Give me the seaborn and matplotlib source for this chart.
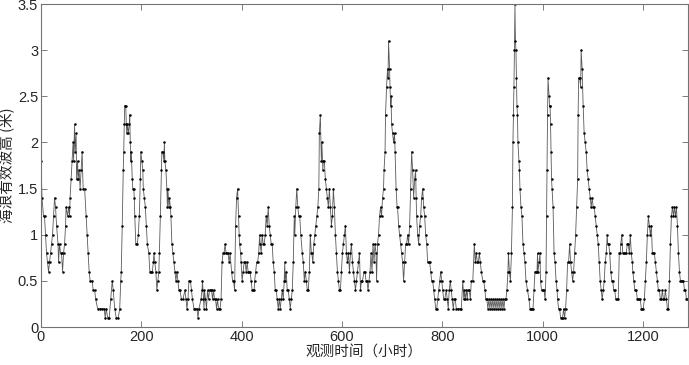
import numpy as np
import pandas as pd
import matplotlib
matplotlib.use("Agg")
import matplotlib.pyplot as plt
import seaborn as sns

sns.set_style("ticks")
plt.rcParams['font.family'] = ['Liberation Sans', 'Noto Sans CJK SC', 'DejaVu Sans']
plt.rcParams['axes.unicode_minus'] = False

# 观测时间 (小时) 与 海浪有效波高 (米)
obs_hours = [
    0, 2, 5, 7, 9, 11, 13, 15, 17, 19, 21, 23, 25, 27, 29, 31, 34, 35, 37, 39,
    41, 43, 45, 47, 49, 50, 53, 55, 57, 58, 60, 62, 64, 65, 67, 68, 70, 71, 73, 74,
    76, 78, 80, 82, 84, 87, 90, 92, 94, 96, 98, 102, 104, 107, 109, 113, 117, 121, 126, 128,
    130, 133, 136, 139, 142, 144, 147, 150,
    154, 157, 159, 160, 162, 164, 165, 166, 167, 169, 170, 171, 172, 174, 176, 177, 178, 179,
    180, 182, 183, 185, 186, 187, 189, 192, 194, 196, 198, 199, 201, 203, 204, 206, 208, 210,
    212, 215, 217, 219, 222, 224, 225, 227, 229, 231, 233, 235, 236, 238, 240, 241, 243, 245,
    246, 247, 249, 251, 252, 253, 255, 256, 258, 259, 261, 263, 265, 267, 269, 271, 273, 275,
    277, 280, 283, 287, 289, 291, 293, 295, 298, 300, 302, 305, 308, 311, 313, 315,
    319, 321, 322, 324, 325, 326, 328, 330, 332, 334, 336, 338, 340, 342, 344, 346, 348, 350,
    352, 354, 357, 359, 361, 363, 365, 367, 369, 370, 373, 375, 377, 380, 382, 384, 386, 388,
    390, 392, 394, 395, 396, 398, 399, 401, 403, 405, 407, 409, 411, 413, 415, 417, 419, 421,
    423, 425, 426, 428, 430, 432, 434, 436, 437, 439, 441, 443, 445, 447, 449, 451, 453, 455,
    457, 459, 461, 463, 465, 467, 469, 471, 473, 475, 477, 479,
    481, 483, 485, 486, 487, 489, 491, 493, 495, 497, 499, 501, 503, 505, 506, 508, 510, 512,
    514, 516, 518, 521, 523, 525, 527, 529, 531, 533, 535, 537, 539, 540, 542, 544, 546, 548,
    550, 552, 554, 555, 557, 559, 560, 562, 563, 565, 567, 569, 571, 573, 575, 577, 579, 581,
    583, 585, 587, 589, 591, 593, 595, 597, 599, 601, 603, 605, 607, 609, 611, 613, 615, 617,
    619, 621, 623, 625, 627, 629, 631, 633, 635, 637, 639, 641,
    644, 646, 648, 650, 652, 654, 656, 658, 660, 662, 664, 666, 668, 669, 671, 673, 675, 677,
    679, 681, 683, 684, 686, 687, 689, 691, 692, 693, 695, 696, 697, 698, 699, 701, 703, 705,
    706, 708, 710, 711, 713, 715, 717, 719, 721, 723, 725, 727, 729, 731, 733, 735, 737, 739,
    741, 743, 745, 747, 748, 749, 751, 753, 755, 757, 759, 761, 763, 765, 767, 769, 771, 773,
    775, 777, 779, 781, 783, 785, 787, 789, 791, 793, 795, 797, 799, 801, 803, 805,
    808, 810, 812, 814, 816, 818, 820, 822, 824, 826, 828, 831, 835, 838, 841, 843, 844, 846,
    848, 850, 851, 854, 856, 858, 861, 864, 866, 868, 870, 872, 874, 876, 878, 881, 883, 885,
    887, 889, 891, 893, 895, 897, 899, 901, 903, 905, 907, 909, 911, 913, 915, 917, 919, 921,
    923, 925, 927, 929, 931, 932, 934, 936, 938, 940, 941, 942, 943, 944, 945, 946, 947, 948,
    949, 950, 951, 953, 954, 955, 957, 959, 961, 963, 965, 967, 970,
    973, 975, 977, 979, 981, 983, 985, 987, 989, 990, 991, 993, 995, 996, 998, 1001, 1003, 1005,
    1007, 1008, 1009, 1010, 1011, 1013, 1014, 1015, 1016, 1017, 1018, 1019, 1021, 1023, 1025, 1027,
    1029, 1030, 1032, 1034, 1036, 1038, 1040, 1042, 1044, 1046, 1048, 1050, 1052, 1054, 1056, 1058,
    1060, 1062, 1064, 1066, 1068, 1070, 1071, 1072, 1074, 1076, 1077, 1079, 1081, 1083, 1085, 1087,
    1089, 1091, 1093, 1095, 1097, 1099, 1101, 1103, 1105, 1107, 1109, 1111, 1113, 1115, 1117, 1119,
    1121, 1123, 1125, 1127,
    1129, 1130, 1132, 1134, 1136, 1138, 1140, 1142, 1144, 1146, 1149, 1151, 1153, 1155, 1156, 1158,
    1160, 1162, 1164, 1167, 1169, 1171, 1173, 1175, 1177, 1179, 1180, 1182, 1184, 1187, 1189, 1191,
    1193, 1195, 1197, 1199, 1201, 1203, 1205, 1207, 1209, 1211, 1213, 1215, 1217, 1219, 1221, 1223,
    1225, 1227, 1229, 1231, 1233, 1235, 1237, 1239, 1241, 1243, 1245, 1247, 1249, 1251, 1253, 1255,
    1257, 1259, 1261, 1263, 1265, 1267, 1269, 1271, 1273, 1275, 1277, 1279, 1281, 1283, 1285, 1287,
    1289,
]

wave_height = [
    1.8, 1.4, 1.2, 1.2, 1.0, 0.8, 0.7, 0.6, 0.7, 0.8, 0.9, 1.0, 1.2, 1.4, 1.3, 1.1, 0.9, 0.7, 0.9, 0.8,
    0.8, 0.6, 0.8, 0.9, 1.1, 1.3, 1.2, 1.3, 1.2, 1.4, 1.6, 1.8, 2.0, 1.8, 2.2, 1.9, 2.1, 1.6, 1.8, 1.6,
    1.7, 1.5, 1.7, 1.9, 1.5, 1.5, 1.2, 1.0, 0.8, 0.6, 0.5, 0.5, 0.4, 0.4, 0.3, 0.2, 0.2, 0.2, 0.2, 0.1,
    0.2, 0.1, 0.1, 0.3, 0.5, 0.4, 0.2, 0.1,
    0.1, 0.2, 0.5, 0.6, 1.1, 1.7, 1.9, 2.2, 2.4, 2.4, 2.2, 2.1, 2.2, 2.1, 2.2, 2.3, 2.0, 1.8,
    1.9, 1.6, 1.5, 1.5, 1.4, 1.2, 0.9, 0.9, 1.0, 1.2, 1.6, 1.9, 1.8, 1.7, 1.5, 1.4, 1.3, 1.1,
    0.9, 0.8, 0.6, 0.6, 0.6, 0.7, 0.8, 0.7, 0.6, 0.4, 0.5, 0.6, 0.8, 1.2, 1.7, 1.9, 1.9, 1.8,
    2.0, 1.8, 1.7, 1.5, 1.3, 1.5, 1.3, 1.4, 1.3, 1.2, 0.9, 0.8, 0.7, 0.6, 0.5, 0.6, 0.5, 0.4,
    0.4, 0.3, 0.3, 0.4, 0.3, 0.2, 0.3, 0.5, 0.5, 0.4, 0.3, 0.2, 0.2, 0.2, 0.1, 0.2,
    0.3, 0.4, 0.5, 0.3, 0.2, 0.4, 0.3, 0.2, 0.4, 0.3, 0.4, 0.4, 0.4, 0.3, 0.4, 0.3, 0.3, 0.2,
    0.3, 0.2, 0.2, 0.3, 0.7, 0.8, 0.8, 0.9, 0.8, 0.8, 0.8, 0.7, 0.8, 0.6, 0.5, 0.5, 0.4, 1.1,
    1.4, 1.5, 1.2, 1.0, 0.9, 0.8, 0.7, 0.5, 0.6, 0.7, 0.7, 0.6, 0.7, 0.6, 0.6, 0.6, 0.5, 0.4,
    0.4, 0.4, 0.5, 0.6, 0.7, 0.7, 0.8, 1.0, 0.9, 0.8, 1.0, 0.9, 0.9, 1.0, 1.2, 1.1, 1.3, 1.1,
    1.0, 0.9, 0.9, 0.7, 0.6, 0.4, 0.4, 0.3, 0.2, 0.3, 0.2, 0.3,
    0.4, 0.3, 0.5, 0.7, 0.5, 0.6, 0.4, 0.4, 0.3, 0.2, 0.3, 0.4, 0.7, 1.2, 1.0, 1.3, 1.5, 1.3,
    1.2, 1.2, 1.0, 0.8, 0.7, 0.5, 0.6, 0.5, 0.4, 0.4, 0.6, 1.0, 0.8, 0.8, 0.7, 0.9, 1.0, 1.1,
    1.2, 1.3, 1.5, 2.1, 2.3, 1.8, 2.0, 1.7, 1.8, 1.8, 1.6, 1.5, 1.4, 1.3, 1.5, 1.3, 1.1, 1.2,
    1.5, 1.3, 1.0, 0.8, 0.6, 0.5, 0.4, 0.4, 0.6, 0.8, 0.9, 1.0, 1.1, 0.8, 0.7, 0.8, 0.6, 0.8,
    0.9, 0.7, 0.6, 0.5, 0.4, 0.5, 0.6, 0.7, 0.8, 0.4, 0.5, 0.5,
    0.6, 0.6, 0.5, 0.5, 0.4, 0.5, 0.6, 0.8, 0.6, 0.9, 0.7, 0.9, 0.8, 0.5, 0.9, 1.0, 1.2, 1.3,
    1.2, 1.4, 1.5, 1.7, 1.9, 2.3, 2.6, 2.8, 2.7, 3.1, 2.8, 2.6, 2.4, 2.5, 2.2, 2.1, 2.0, 2.1,
    1.9, 1.5, 1.3, 1.3, 1.1, 1.0, 0.9, 0.8, 0.7, 0.5, 0.7, 0.9, 0.9, 1.0, 0.9, 1.1, 1.5, 1.9,
    1.7, 1.4, 1.6, 1.7, 1.4, 1.2, 1.0, 0.9, 1.1, 1.2, 1.4, 1.5, 1.3, 1.2, 1.0, 0.9, 0.7, 0.7,
    0.7, 0.6, 0.5, 0.5, 0.4, 0.3, 0.2, 0.2, 0.3, 0.4, 0.5, 0.6, 0.5, 0.4, 0.3, 0.3,
    0.4, 0.3, 0.2, 0.4, 0.5, 0.4, 0.3, 0.2, 0.3, 0.3, 0.2, 0.2, 0.2, 0.2, 0.5, 0.3, 0.4, 0.3,
    0.4, 0.3, 0.4, 0.4, 0.3, 0.5, 0.5, 0.9, 0.7, 0.8, 0.7, 0.7, 0.8, 0.7, 0.6, 0.5, 0.5, 0.4,
    0.3, 0.3, 0.2, 0.3, 0.2, 0.3, 0.2, 0.3, 0.2, 0.3, 0.2, 0.3, 0.2, 0.3, 0.2, 0.3, 0.2, 0.3,
    0.2, 0.3, 0.3, 0.4, 0.6, 0.8, 0.6, 0.5, 0.8, 1.3, 2.0, 2.3, 2.6, 3.0, 3.5, 3.1, 3.0, 2.7,
    2.4, 2.3, 2.0, 1.8, 1.7, 1.5, 1.3, 1.2, 0.9, 0.8, 0.7, 0.5, 0.4,
    0.3, 0.2, 0.2, 0.2, 0.2, 0.4, 0.6, 0.6, 0.6, 0.8, 0.6, 0.7, 0.8, 0.5, 0.4, 0.4, 0.4, 0.3,
    0.6, 1.2, 1.7, 2.3, 2.7, 2.5, 2.4, 2.4, 2.2, 1.9, 1.6, 1.5, 1.3, 0.8, 0.7, 0.5,
    0.4, 0.3, 0.2, 0.2, 0.1, 0.1, 0.1, 0.2, 0.1, 0.2, 0.4, 0.7, 0.7, 0.9, 0.7, 0.6,
    0.5, 0.6, 0.8, 1.0, 1.3, 1.6, 2.3, 2.7, 2.7, 2.6, 3.0, 2.8, 2.4, 2.1, 2.0, 1.9,
    1.7, 1.6, 1.5, 1.4, 1.3, 1.4, 1.3, 1.3, 1.2, 1.1, 1.0, 0.9, 0.7, 0.5, 0.4, 0.3,
    0.4, 0.5, 0.7, 0.8,
    1.0, 0.9, 0.9, 0.8, 0.6, 0.5, 0.5, 0.4, 0.4, 0.3, 0.3, 0.3, 0.8, 0.8, 0.9, 1.0,
    0.8, 0.8, 0.8, 0.8, 0.9, 0.9, 0.8, 1.0, 0.8, 0.7, 0.6, 0.5, 0.4, 0.4, 0.3, 0.3,
    0.3, 0.3, 0.2, 0.2, 0.2, 0.3, 0.5, 0.7, 1.0, 1.2, 1.1, 1.0, 1.1, 0.8, 0.8, 0.8,
    0.7, 0.6, 0.5, 0.4, 0.4, 0.3, 0.3, 0.4, 0.3, 0.3, 0.4, 0.3, 0.2, 0.2, 0.5, 0.9,
    1.2, 1.3, 1.2, 1.3, 1.2, 1.3, 1.1, 0.8, 0.6, 0.5, 0.5, 0.5, 0.5, 0.4, 0.4, 0.3,
    0.3,
]

x_ticks = [0, 200, 400, 600, 800, 1000, 1200]
y_ticks = [0, 0.5, 1, 1.5, 2, 2.5, 3, 3.5]
y_tick_labels = ["0", "0.5", "1", "1.5", "2", "2.5", "3", "3.5"]

df = pd.DataFrame({"hour": obs_hours, "height": wave_height})

fig = plt.figure(figsize=(6.89, 3.65), dpi=100)
ax = fig.add_axes([0.0595, 0.104, 0.939, 0.885])

sns.lineplot(data=df, x="hour", y="height", ax=ax, estimator=None, sort=False,
             color="0.35", linewidth=0.6, marker="o", markersize=1.8,
             markeredgewidth=0, markerfacecolor="black")

ax.set_xlim(0, 1290)
ax.set_ylim(0, 3.5)
ax.set_xticks(x_ticks)
ax.set_yticks(y_ticks)
ax.set_yticklabels(y_tick_labels)
ax.tick_params(direction="in", top=True, right=True, labelsize=10.5, length=4,
               width=0.6, color="0.4", pad=2)
for sp in ax.spines.values():
    sp.set_linewidth(0.8)
    sp.set_color("0.45")

cjk = ['Noto Sans CJK SC', 'DejaVu Sans']
ax.set_xlabel("观测时间（小时）", family=cjk, fontsize=10.5, labelpad=1)
ax.set_ylabel("海浪有效波高 (米)", family=cjk, fontsize=10.5, labelpad=2)

fig.savefig("out.png", dpi=100)
